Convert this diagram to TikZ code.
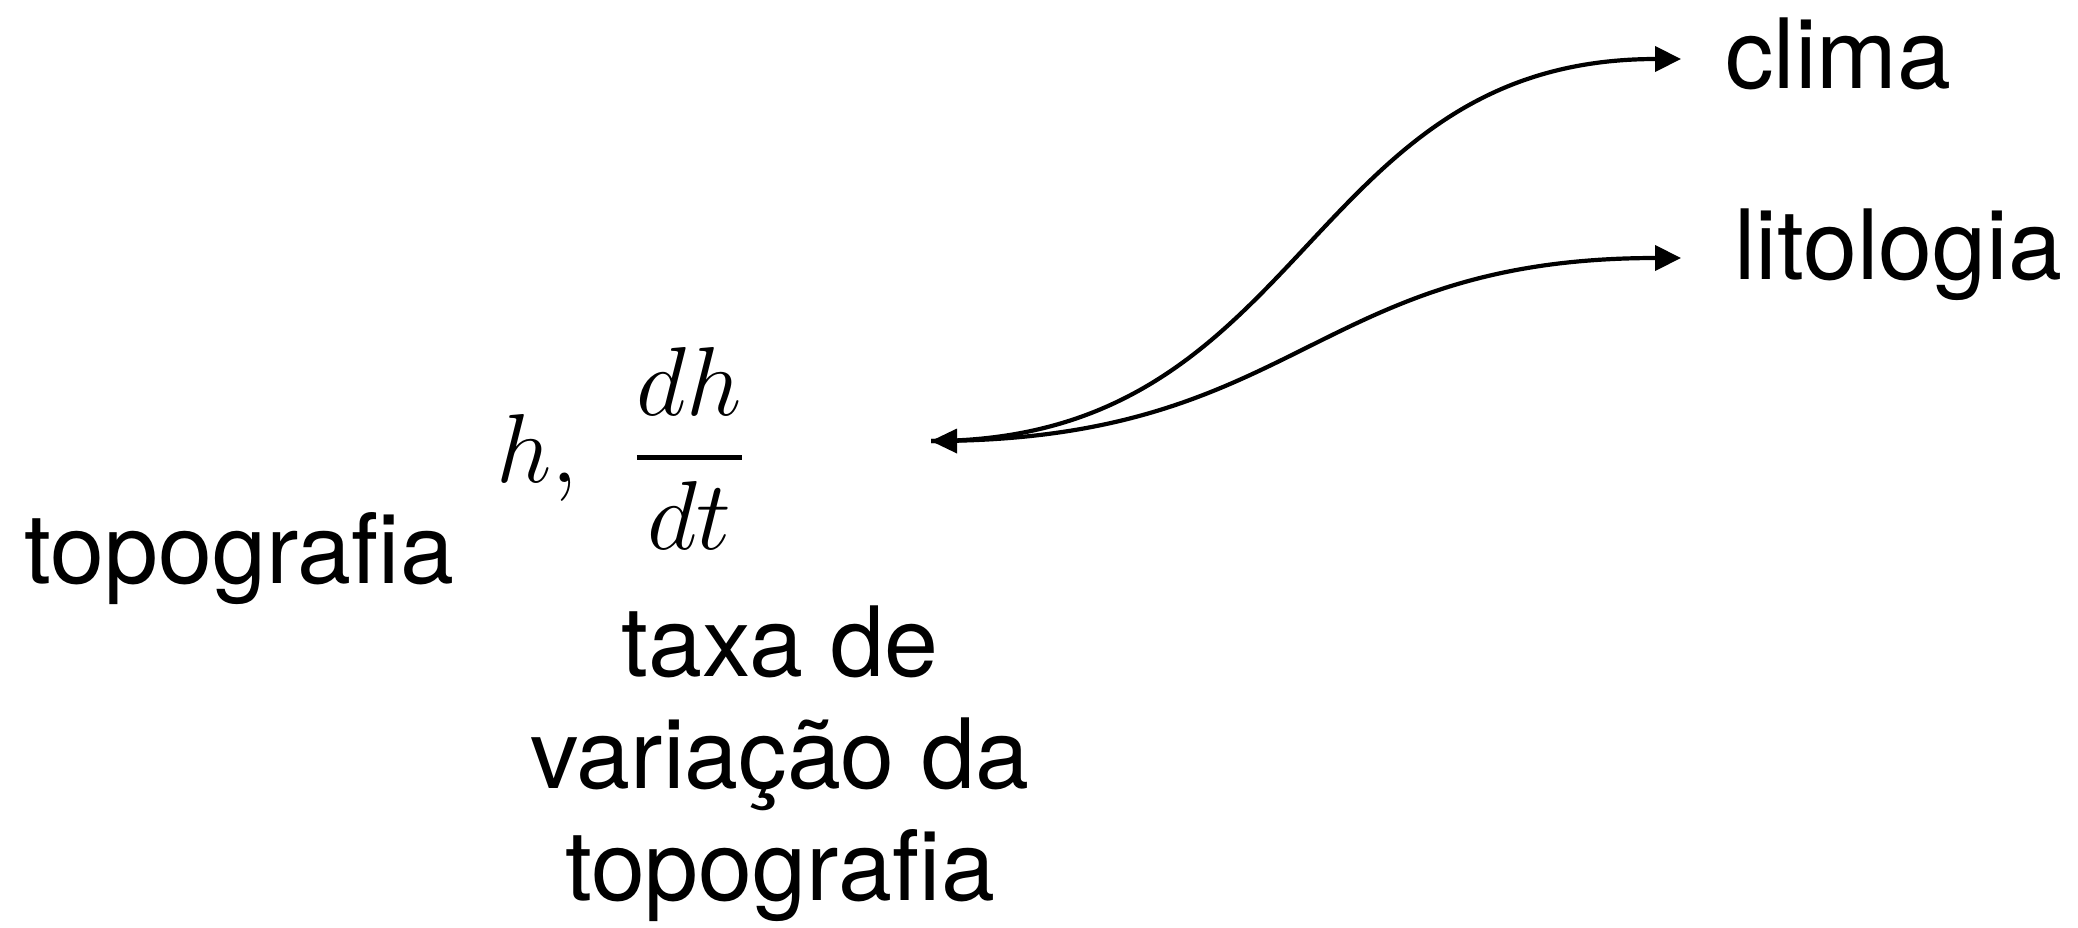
\RequirePackage{fix-cm}
\documentclass[tikz,border=0pt]{standalone}
\usepackage{fontspec}
\setmainfont{TeX Gyre Heros}
\usetikzlibrary{arrows.meta}
\begin{document}
\begin{tikzpicture}[x=1pt,y=-1pt,
  lbl/.style={inner sep=0pt, font=\fontsize{97}{112}\selectfont},
  conn/.style={line width=4.2pt, -{Triangle[length=26pt,width=25pt]}}]
\fill[white] (0,0) rectangle (2078,927);
\useasboundingbox (0,0) rectangle (2078,927);
\node[lbl, anchor=base west] (topo) at (24,583) {topografia};
\node[lbl, anchor=base west] (clima) at (1725,88) {clima};
\node[lbl, anchor=base west] (lito) at (1734,279) {litologia};
\node[lbl, anchor=base west, font=\fontsize{98}{112}\selectfont] (math) at (496,482)
  {$h,\hspace{0.42em}\displaystyle{dh\above4.5pt dt}$};
\node[lbl, anchor=base, align=center] (taxa) at (780,900)
  {taxa de\\variação da\\topografia};
\coordinate (hub) at (931,441);
\coordinate (climatip) at (1681,59);
\coordinate (litotip) at (1681,258);
\draw[conn] (hub) to[out=0,in=180,distance=380pt] (climatip);
\draw[conn] (hub) to[out=0,in=180,distance=370pt] (litotip);
\fill (hub) -- ++(26,-12.5) -- ++(0,25) -- cycle;
\end{tikzpicture}
\end{document}
